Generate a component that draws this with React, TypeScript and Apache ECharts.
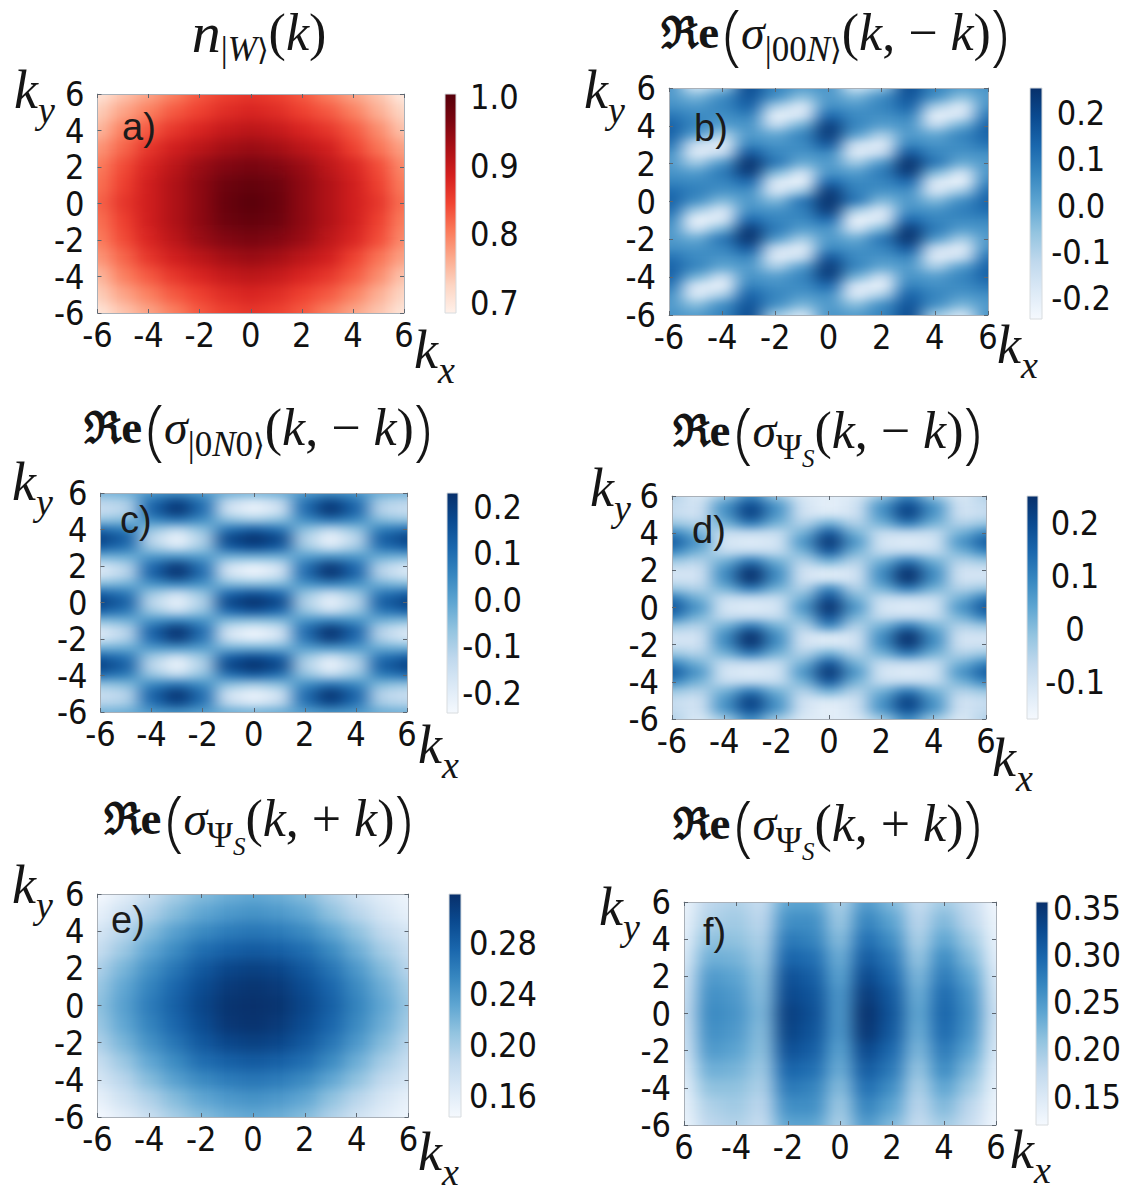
import React, { useEffect, useRef } from "react";
import * as echarts from "echarts";

const REDS = ["#fff1ea", "#fdd5c3", "#fcaa8d", "#fb7a5a", "#f14432", "#d5201f", "#ab1016", "#7c0510", "#55000a"];
const BLUES = ["#f5f9fe", "#dbe9f6", "#bfd8ed", "#93c4e0", "#5fa6d2", "#3787c0", "#1a67ad", "#0a4a90", "#08306b"];

// Rows run from ky = 6 down to ky = -6, columns from kx = -6 to kx = 6 (one unit apart).
const nW = [
  [.70, .74, .77, .80, .83, .85, .86, .85, .83, .80, .77, .74, .69],
  [.73, .77, .80, .83, .85, .87, .88, .87, .85, .83, .80, .76, .72],
  [.75, .80, .83, .86, .88, .90, .91, .90, .88, .86, .83, .79, .74],
  [.78, .82, .86, .89, .91, .93, .94, .93, .91, .89, .85, .81, .77],
  [.80, .84, .88, .91, .94, .96, .97, .96, .94, .91, .88, .84, .79],
  [.81, .85, .89, .92, .95, .98, .99, .98, .95, .92, .89, .85, .80],
  [.82, .86, .89, .92, .95, .985, 1.0, .985, .95, .92, .89, .86, .81],
  [.81, .85, .89, .92, .95, .98, .99, .98, .95, .92, .89, .85, .80],
  [.80, .84, .88, .91, .94, .96, .97, .96, .94, .91, .88, .84, .79],
  [.78, .82, .86, .89, .91, .93, .94, .93, .91, .89, .85, .81, .77],
  [.75, .80, .83, .86, .88, .90, .91, .90, .88, .86, .83, .79, .74],
  [.73, .77, .80, .83, .85, .87, .88, .87, .85, .83, .80, .76, .72],
  [.70, .74, .77, .80, .83, .85, .86, .85, .83, .80, .77, .74, .70],
];

// Half-unit rows from ky = 6 to ky = 0.5, then the ky = 0 row; the panel is point-symmetric.
const sigma00NUpper = [
  [.04, -.17, -.07, .19, .07, .02, .04, -.17, -.07, .19, .07, .02, .04],
  [.03, -.03, .05, .17, .05, -.05, .03, -.03, .05, .17, .05, -.05, .03],
  [.05, .03, .07, .14, -.09, -.19, .05, .03, .07, .14, -.09, -.19, .05],
  [.10, .06, .05, .08, -.22, -.18, .13, .06, .05, .08, -.22, -.18, .10],
  [.14, .07, .02, .04, -.14, -.02, .22, .07, .02, .04, -.14, -.02, .14],
  [.14, .02, -.09, .03, .00, .07, .23, .02, -.09, .03, .00, .07, .14],
  [.11, -.15, -.20, .07, .04, .06, .17, -.15, -.20, .07, .04, .06, .11],
  [.05, -.20, -.14, .17, .07, .04, .06, -.20, -.14, .17, .07, .04, .05],
  [.03, -.08, .03, .25, .10, -.01, .03, -.08, .03, .25, .10, -.01, .03],
  [.04, .02, .09, .23, -.03, -.16, .04, .02, .09, .23, -.03, -.16, .04],
  [.07, .06, .07, .13, -.19, -.23, .13, .06, .07, .13, -.19, -.23, .07],
  [.12, .08, .04, .05, -.18, -.08, .23, .08, .04, .05, -.18, -.08, .12],
];
const sigma00NCentre = [.14, .05, -.04, .03, -.04, .10, .25, .10, -.04, .03, -.04, .05, .14];

// Half-unit rows from ky = 6 to ky = 0, columns kx = -6 to kx = 0; symmetric in both axes.
const sigma0N0Quarter = [
  [-.03, -.02, .02, .03, .01, -.02, -.03],
  [-.12, -.10, .10, .19, .09, -.14, -.19],
  [-.15, -.12, .12, .22, .10, -.17, -.22],
  [-.07, -.05, .05, .09, .04, -.06, -.09],
  [.10, .07, -.07, -.13, -.06, .09, .13],
  [.19, .13, -.13, -.23, -.11, .18, .23],
  [.13, .09, -.09, -.17, -.08, .13, .17],
  [-.03, -.02, .02, .03, .01, -.03, -.03],
  [-.17, -.11, .11, .21, .09, -.16, -.21],
  [-.18, -.12, .12, .22, .10, -.17, -.22],
  [-.05, -.03, .03, .06, .03, -.05, -.06],
  [.12, .08, -.08, -.15, -.07, .11, .15],
  [.19, .13, -.13, -.22, -.11, .18, .23],
];

const sigmaPsiMinusQuarter = [
  [-.05, -.12, -.03, .09, -.03, -.12, -.13],
  [-.07, -.10, .07, .20, .07, -.10, -.14],
  [-.08, -.10, .07, .22, .07, -.10, -.12],
  [-.02, -.05, .02, .12, .02, -.05, .03],
  [.10, .02, -.08, -.08, -.08, .02, .18],
  [.17, .07, -.11, -.13, -.11, .07, .24],
  [.10, .02, -.08, -.08, -.08, .02, .18],
  [-.02, -.05, .02, .12, .02, -.05, .03],
  [-.10, -.10, .08, .24, .08, -.10, -.12],
  [-.10, -.10, .08, .25, .08, -.10, -.12],
  [-.02, -.05, .02, .12, .02, -.05, .10],
  [.12, .02, -.08, -.08, -.08, .02, .20],
  [.18, .07, -.11, -.13, -.11, .07, .25],
];

const sigmaPsiPlusE = [
  [.145, .16, .18, .20, .215, .225, .23, .225, .215, .195, .175, .16, .15],
  [.155, .175, .195, .215, .23, .24, .245, .24, .23, .21, .19, .17, .155],
  [.17, .19, .215, .235, .25, .26, .265, .26, .25, .23, .21, .185, .17],
  [.18, .205, .23, .25, .27, .28, .285, .28, .27, .25, .225, .20, .18],
  [.195, .22, .245, .265, .285, .30, .305, .30, .285, .265, .24, .215, .19],
  [.205, .23, .255, .275, .295, .31, .315, .31, .295, .275, .25, .225, .20],
  [.21, .235, .26, .28, .30, .315, .318, .315, .30, .28, .255, .23, .205],
  [.205, .23, .255, .275, .295, .312, .316, .31, .295, .275, .25, .225, .20],
  [.195, .22, .245, .265, .285, .30, .305, .30, .285, .265, .24, .215, .19],
  [.18, .205, .23, .25, .27, .28, .285, .28, .27, .25, .225, .20, .18],
  [.17, .19, .215, .235, .25, .26, .265, .26, .25, .23, .21, .185, .17],
  [.155, .175, .195, .215, .23, .24, .245, .24, .23, .21, .19, .17, .155],
  [.145, .16, .18, .20, .215, .225, .23, .225, .215, .195, .175, .16, .15],
];

const sigmaPsiPlusF = [
  [.13, .18, .19, .17, .24, .24, .19, .25, .22, .17, .20, .17, .125],
  [.135, .19, .20, .18, .26, .26, .20, .27, .24, .18, .22, .18, .13],
  [.14, .21, .21, .19, .28, .27, .215, .29, .26, .19, .24, .20, .135],
  [.15, .23, .225, .20, .30, .29, .23, .31, .28, .205, .265, .22, .14],
  [.16, .25, .24, .21, .32, .305, .24, .33, .295, .22, .28, .24, .15],
  [.165, .26, .25, .215, .33, .315, .25, .345, .31, .23, .295, .255, .155],
  [.17, .265, .255, .22, .34, .32, .25, .355, .315, .235, .30, .26, .16],
  [.165, .26, .25, .215, .335, .315, .25, .35, .31, .23, .295, .255, .155],
  [.16, .25, .24, .21, .32, .305, .24, .33, .295, .22, .28, .24, .15],
  [.15, .23, .225, .20, .30, .29, .23, .31, .28, .205, .265, .22, .14],
  [.14, .21, .21, .19, .28, .27, .215, .29, .26, .19, .24, .20, .135],
  [.135, .19, .20, .18, .26, .26, .20, .27, .24, .18, .22, .18, .13],
  [.13, .18, .19, .17, .24, .24, .19, .25, .22, .17, .20, .17, .125],
];

const barTicksA = [1.0, 0.9, 0.8, 0.7];
const barLabelsA = ["1.0", "0.9", "0.8", "0.7"];
const barTicksB = [0.2, 0.1, 0, -0.1, -0.2];
const barLabelsB = ["0.2", "0.1", "0.0", "-0.1", "-0.2"];
const barTicksD = [0.2, 0.1, 0, -0.1];
const barLabelsD = ["0.2", "0.1", "0", "-0.1"];
const barTicksE = [0.28, 0.24, 0.20, 0.16];
const barLabelsE = ["0.28", "0.24", "0.20", "0.16"];
const barTicksF = [0.35, 0.30, 0.25, 0.20, 0.15];
const barLabelsF = ["0.35", "0.30", "0.25", "0.20", "0.15"];

const pointMirror = (upper: number[][], centre: number[]) => [
  ...upper,
  centre,
  ...upper.map((r) => [...r].reverse()).reverse(),
];
const quarterMirror = (q: number[][]) => {
  const half = q.map((r) => [...r, ...r.slice(0, -1).reverse()]);
  return [...half, ...half.slice(0, -1).reverse()];
};

const sigma00N = pointMirror(sigma00NUpper, sigma00NCentre);
const sigma0N0 = quarterMirror(sigma0N0Quarter);
const sigmaPsiMinus = quarterMirror(sigmaPsiMinusQuarter);

const PAD = 2;
const TICK_FONT = '"DejaVu Sans Condensed", "DejaVu Sans", sans-serif';
const SERIF = '"Liberation Serif", "DejaVu Serif", serif';

const INK = "#151515";
const richStyles: any = {
  n: { fontFamily: SERIF, fontStyle: "italic", fontSize: 58, fill: INK },
  t: { fontFamily: SERIF, fontSize: 52, fill: INK },
  ti: { fontFamily: SERIF, fontStyle: "italic", fontSize: 52, fill: INK },
  sub: { fontFamily: SERIF, fontStyle: "italic", fontSize: 35, fill: INK, padding: [34, 0, 0, 0] },
  subr: { fontFamily: SERIF, fontSize: 35, fill: INK, padding: [34, 0, 0, 0] },
  ang: { fontFamily: '"DejaVu Serif", serif', fontSize: 30, fill: INK, padding: [34, 0, 0, 0] },
  subsub: { fontFamily: SERIF, fontStyle: "italic", fontSize: 25, fill: INK, padding: [56, 0, 0, 0] },
  R: { fontFamily: '"DejaVu Serif", serif', fontWeight: "bold", fontSize: 44, fill: INK },
  e: { fontFamily: SERIF, fontWeight: "bold", fontSize: 47, fill: INK, padding: [0, 4, 0, 0] },
  big: { fontFamily: '"Open Sans", "Liberation Serif", serif', fontSize: 66, fill: INK, fontWeight: 300 },
  s: { fontFamily: SERIF, fontStyle: "italic", fontSize: 48, fill: INK },
  k: { fontFamily: SERIF, fontStyle: "italic", fontSize: 54, fill: INK },
  ks: { fontFamily: SERIF, fontStyle: "italic", fontSize: 38, fill: INK, padding: [40, 0, 0, 0] },
};

const reTitle = (sub: string, sign: string) =>
  `{R|ℜ}{e|e}{big|(}{s|σ}${sub}{t|(}{ti|k}{t|, ${sign} }{ti|k}{t|)}{big|)}`;

const PANELS: any[] = [
  { data: nW, colors: REDS, plot: [97.5, 94, 404, 313], bar: [445, 94, 456, 313], range: [0.685, 1.005],
    ticks: barTicksA, labels: barLabelsA, barAlign: "left", barMargin: 14, blur: "coarse",
    title: "{n|n}{subr||}{sub|W}{ang|⟩}{t|(}{ti|k}{t|)}", titlePos: [259, 32],
    tag: "a)", tagPos: [122, 127], ky: [14, 90], kx: [414, 350], labelDy: 0 },
  { data: sigma00N, colors: BLUES, plot: [669, 88, 988, 315], bar: [1030, 88, 1042, 319], range: [-0.245, 0.254],
    ticks: barTicksB, labels: barLabelsB, barAlign: "center", barMargin: 39, blur: "fine",
    title: reTitle("{subr||00}{sub|N}{ang|⟩}", "−"), titlePos: [835, 32],
    tag: "b)", tagPos: [694, 128], ky: [584, 90], kx: [997, 345], labelDy: 10 },
  { data: sigma0N0, colors: BLUES, plot: [100.5, 493, 407, 712], bar: [447, 493, 458, 713], range: [-0.243, 0.23],
    ticks: barTicksB, labels: barLabelsB, barAlign: "right", barMargin: 64, blur: "fine",
    title: reTitle("{subr||0}{sub|N}{subr|0}{ang|⟩}", "−"), titlePos: [258, 427],
    tag: "c)", tagPos: [120, 520], ky: [12, 482], kx: [418, 745], labelDy: 0 },
  { data: sigmaPsiMinus, colors: BLUES, plot: [672, 496, 986, 719], bar: [1027, 496, 1038, 719], range: [-0.17, 0.251],
    ticks: barTicksD, labels: barLabelsD, barAlign: "center", barMargin: 37, blur: "fine",
    title: reTitle("{subr|Ψ}{subsub|S}", "−"), titlePos: [827, 430],
    tag: "d)", tagPos: [692, 530], ky: [590, 488], kx: [992, 758], labelDy: 2 },
  { data: sigmaPsiPlusE, colors: BLUES, plot: [97.5, 894, 408.5, 1117], bar: [449, 894, 461, 1117], range: [0.144, 0.318],
    ticks: barTicksE, labels: barLabelsE, barAlign: "center", barMargin: 42, blur: "coarse",
    title: reTitle("{subr|Ψ}{subsub|S}", "+"), titlePos: [258, 818],
    tag: "e)", tagPos: [111, 920], ky: [12, 885], kx: [418, 1152], labelDy: 0 },
  { data: sigmaPsiPlusF, colors: BLUES, plot: [684, 902, 996, 1125], bar: [1036, 902, 1048, 1125], range: [0.12, 0.356],
    ticks: barTicksF, labels: barLabelsF, barAlign: "center", barMargin: 39, blur: "coarse",
    title: reTitle("{subr|Ψ}{subsub|S}", "+"), titlePos: [827, 823],
    tag: "f)", tagPos: [703, 932], ky: [599, 907], kx: [1010, 1150], labelDy: 26, firstX: "6" },
];

function paddedTable(table: number[][], padRows: number) {
  const rows = table.map((r) => [...Array(PAD).fill(r[0]), ...r, ...Array(PAD).fill(r[r.length - 1])]);
  return [...Array(padRows).fill(rows[0]), ...rows, ...Array(padRows).fill(rows[rows.length - 1])];
}

const padRowsOf = (p: any) => (p.data.length > 13 ? PAD * 2 : PAD);

function heatOption(p: any) {
  const t = paddedTable(p.data, padRowsOf(p));
  const n = t.length;
  const xCats = t[0].map((_: number, i: number) => String(i));
  const yCats = t.map((_: number[], i: number) => String(i));
  const data: number[][] = [];
  t.forEach((row: number[], r: number) => row.forEach((v, c) => data.push([c, n - 1 - r, v])));
  return {
    animation: false,
    grid: { left: 0, right: 0, top: 0, bottom: 0 },
    xAxis: { type: "category", data: xCats, show: false },
    yAxis: { type: "category", data: yCats, show: false },
    visualMap: { show: false, min: p.range[0], max: p.range[1], inRange: { color: p.colors }, calculable: false },
    series: [{ type: "heatmap", data, silent: true, progressive: 0 }],
  };
}

function frameOption() {
  const grid: any[] = [];
  const xAxis: any[] = [];
  const yAxis: any[] = [];
  const graphic: any[] = [];
  const line = { show: true, onZero: false, lineStyle: { color: "#a9b0b8", width: 1 } };
  const tick = { show: true, inside: true, length: 4, lineStyle: { color: "#5d6670", width: 1 } };
  PANELS.forEach((p, i) => {
    const [x0, y0, x1, y1] = p.plot;
    const [bx0, by0, bx1, by1] = p.bar;
    grid.push({ left: x0, top: y0, width: x1 - x0, height: y1 - y0 });
    grid.push({ left: bx0, top: by0, width: bx1 - bx0, height: by1 - by0 });
    const g = i * 2;
    const base = { type: "value", min: -6, max: 6, interval: 2, gridIndex: g, splitLine: { show: false }, axisLine: line, axisTick: tick };
    xAxis.push({ ...base, position: "bottom",
      axisLabel: { fontFamily: TICK_FONT, fontSize: 34, color: "#111", margin: 5, formatter: (v: number) => (p.firstX && v === -6 ? p.firstX : String(v)) } });
    xAxis.push({ ...base, position: "top", axisLabel: { show: false } });
    yAxis.push({ ...base, position: "left",
      axisLabel: { fontFamily: TICK_FONT, fontSize: 34, color: "#111", margin: 13, padding: [p.labelDy, 0, 0, 0], formatter: (v: number) => String(v) } });
    yAxis.push({ ...base, position: "right", axisLabel: { show: false } });
    xAxis.push({ type: "value", min: 0, max: 1, gridIndex: g + 1, show: false });
    yAxis.push({
      type: "value", min: p.range[0], max: p.range[1], gridIndex: g + 1, position: "right",
      splitLine: { show: false }, axisLine: { show: false }, axisTick: { show: false },
      axisLabel: {
        customValues: p.ticks, align: p.barAlign, margin: p.barMargin, hideOverlap: false,
        fontFamily: TICK_FONT, fontSize: 34, color: "#111",
        formatter: (v: number) => p.labels[p.ticks.indexOf(v)],
      },
    });
    const last = p.colors.length - 1;
    const stops = [...p.colors].reverse().map((c: string, k: number) => ({ offset: k / last, color: c }));
    graphic.push({
      type: "rect", shape: { x: bx0, y: by0, width: bx1 - bx0, height: by1 - by0 },
      style: { fill: new echarts.graphic.LinearGradient(0, 0, 0, 1, stops), stroke: "#d8dcdf", lineWidth: 1 },
    });
    graphic.push({
      type: "text", x: p.titlePos[0], y: p.titlePos[1],
      style: { text: p.title, rich: richStyles, align: "center", verticalAlign: "middle" },
    });
    graphic.push({
      type: "text", x: p.tagPos[0], y: p.tagPos[1],
      style: { text: p.tag, fontFamily: '"Liberation Sans", sans-serif', fontSize: 38, fill: "#1b1b1b", align: "left", verticalAlign: "middle" },
    });
    graphic.push({
      type: "text", x: p.ky[0], y: p.ky[1],
      style: { text: "{k|k}{ks|y}", rich: richStyles, align: "left", verticalAlign: "middle" },
    });
    graphic.push({
      type: "text", x: p.kx[0], y: p.kx[1],
      style: { text: "{k|k}{ks|x}", rich: richStyles, align: "left", verticalAlign: "middle" },
    });
  });
  return { animation: false, grid, xAxis, yAxis, graphic };
}

export default function App() {
  const frameRef = useRef<HTMLDivElement>(null);
  const heatRefs = useRef<(HTMLDivElement | null)[]>([]);
  useEffect(() => {
    const charts: any[] = [];
    PANELS.forEach((p, i) => {
      const c = echarts.init(heatRefs.current[i] as HTMLDivElement, undefined, { renderer: "svg" });
      c.setOption(heatOption(p));
      charts.push(c);
    });
    const f = echarts.init(frameRef.current as HTMLDivElement, undefined, { renderer: "svg" });
    f.setOption(frameOption());
    charts.push(f);
    return () => charts.forEach((c) => c.dispose());
  }, []);
  return (
    <div style={{ position: "absolute", left: 0, top: 0, width: 1129, height: 1185, overflow: "hidden", background: "#fff" }}>
      <svg width="0" height="0" style={{ position: "absolute" }}>
        <filter id="coarse" x="-10%" y="-10%" width="120%" height="120%" colorInterpolationFilters="sRGB">
          <feGaussianBlur stdDeviation="9 6" />
        </filter>
        <filter id="fine" x="-10%" y="-10%" width="120%" height="120%" colorInterpolationFilters="sRGB">
          <feGaussianBlur stdDeviation="9 4" />
        </filter>
      </svg>
      {PANELS.map((p, i) => {
        const [x0, y0, x1, y1] = p.plot;
        const rows = p.data.length;
        const padRows = padRowsOf(p);
        const cw = (x1 - x0) / 12;
        const ch = (y1 - y0) / (rows - 1);
        return (
          <div key={i} style={{ position: "absolute", left: x0, top: y0, width: x1 - x0, height: y1 - y0, overflow: "hidden" }}>
            <div
              ref={(el) => { heatRefs.current[i] = el; }}
              style={{
                position: "absolute",
                left: -(0.5 + PAD) * cw,
                top: -(0.5 + padRows) * ch,
                width: (13 + 2 * PAD) * cw,
                height: (rows + 2 * padRows) * ch,
                filter: `url(#${p.blur})`,
              }}
            />
          </div>
        );
      })}
      <div ref={frameRef} style={{ position: "absolute", left: 0, top: 0, width: 1129, height: 1185 }} />
    </div>
  );
}
